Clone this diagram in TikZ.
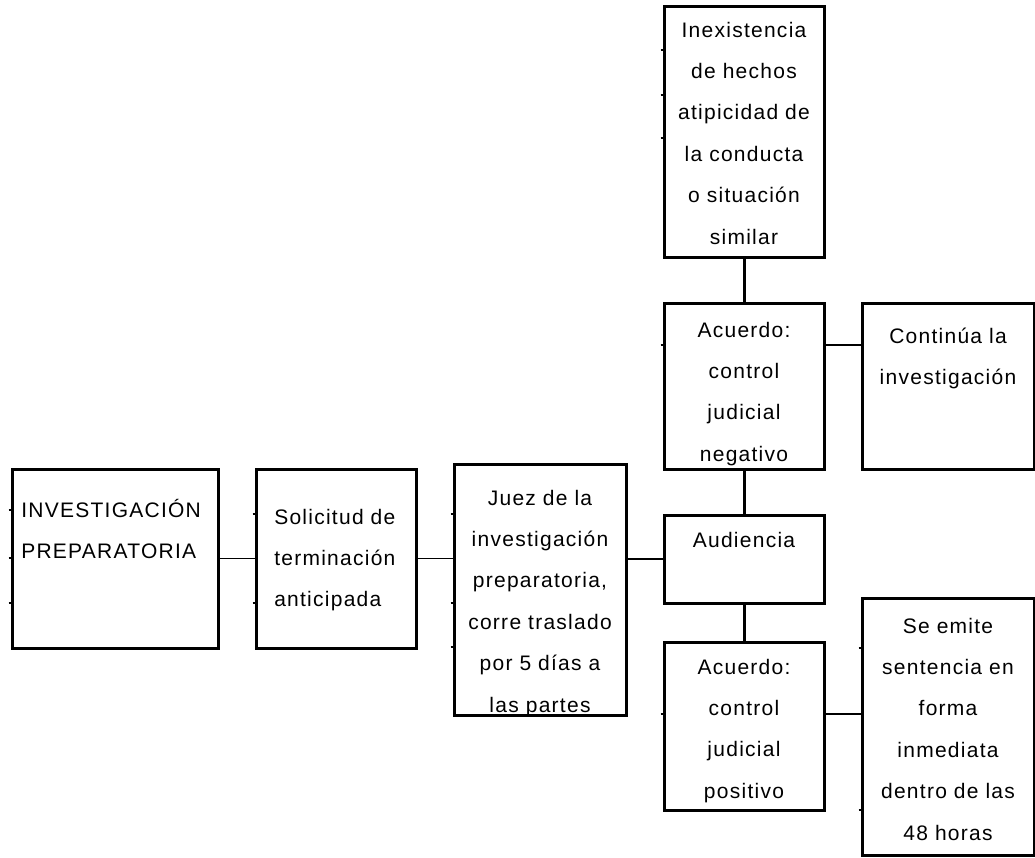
\documentclass[tikz,border=0pt]{standalone}
\usepackage{fontspec}
\newfontfamily\lfont[LetterSpace=6]{Liberation Sans}
\begin{document}
\begin{tikzpicture}[x=0.75pt,y=-0.75pt,
  box/.style={draw=black, line width=2.25pt, rectangle, inner sep=0pt, outer sep=0pt},
  txt/.style={font=\lfont\fontsize{15.75pt}{31.1pt}\selectfont, inner sep=0pt, anchor=base, align=center},
  hline/.style={draw=black, line width=1.1pt},
  vline/.style={draw=black, line width=2.25pt},
  tickmark/.style={draw=black, line width=1.5pt}]
\useasboundingbox (0,0) rectangle (1035,857);

% boxes
\node[box, minimum width=154.5pt, minimum height=134.25pt] (A) at (115,558.5) {};
\node[box, minimum width=120pt, minimum height=134.25pt] (B) at (336,558.5) {};
\node[box, minimum width=129pt, minimum height=188.25pt] (C) at (540,589.5) {};
\node[box, minimum width=120pt, minimum height=188.25pt] (D) at (744,131.5) {};
\node[box, minimum width=120pt, minimum height=124.5pt] (E) at (744,386) {};
\node[box, minimum width=129pt, minimum height=124.5pt] (F) at (948,386) {};
\node[box, minimum width=120pt, minimum height=66pt] (G) at (744,559) {};
\node[box, minimum width=120pt, minimum height=126pt] (H) at (744,726) {};
\node[box, minimum width=129pt, minimum height=192.75pt] (I) at (948,726.5) {};

% texts
\node[txt, text width=150pt, align=left, anchor=base west] (tA) at (21,517) {INVESTIGACIÓN\\PREPARATORIA};
\node[txt, text width=110pt, align=left, anchor=base west] (tB) at (274,524) {Solicitud de\\terminación\\anticipada};
\node[txt, text width=125pt] (tC) at (540,505) {Juez de la\\investigación\\preparatoria,\\corre traslado\\por 5 días a\\las partes};
\node[txt, text width=118pt] (tD) at (744,37) {Inexistencia\\de hechos\\atipicidad de\\la conducta\\o situación\\similar};
\node[txt, text width=118pt] (tE) at (744,337) {Acuerdo:\\control\\judicial\\negativo};
\node[txt, text width=125pt] (tF) at (948,343) {Continúa la\\investigación};
\node[txt, text width=118pt] (tG) at (744,547) {Audiencia};
\node[txt, text width=118pt] (tH) at (744,674) {Acuerdo:\\control\\judicial\\positivo};
\node[txt, text width=125pt] (tI) at (948,633) {Se emite\\sentencia en\\forma\\inmediata\\dentro de las\\48 horas};

% connectors
\draw[hline] (A.east) -- (B.west);
\draw[hline] (B.east) -- (C.west |- B.east);
\draw[hline] (C.east |- G.west) -- (G.west);
\draw[vline] (D.south) -- (E.north);
\draw[vline] (E.south) -- (G.north);
\draw[vline] (G.south) -- (H.north);
\coordinate (yEF) at (0,345);
\draw[hline] (E.east |- yEF) -- (F.west |- yEF);
\coordinate (yHI) at (0,714);
\draw[hline] (H.east |- yHI) -- (I.west |- yHI);

% small stubs on the left edges
\foreach \x/\y in {12/510,12/558,12/603,256/514,256/603,454/514,454/603,454/647,664/50,664/95,664/138,664/345,664/714,862/648,862/810}
  \draw[tickmark] (\x-3.5,\y) -- (\x,\y);
\end{tikzpicture}
\end{document}
